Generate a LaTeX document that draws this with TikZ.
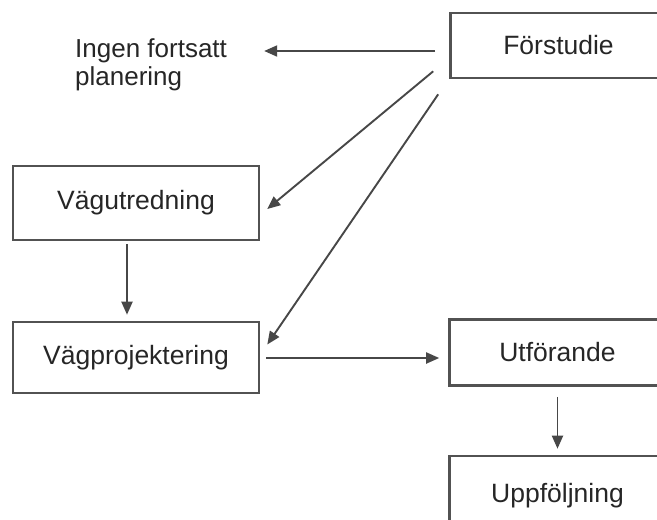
\documentclass[tikz,border=0pt]{standalone}
\usepackage{fontspec}
\setmainfont{Liberation Sans}
\usetikzlibrary{arrows.meta,calc}
\begin{document}
\begin{tikzpicture}[x=1pt,y=-1pt,
  box/.style={draw=black!68,line width=2.6pt,fill=white,rectangle,inner sep=0pt,
     font=\fontsize{26.5}{28}\selectfont,text=black!85},
  lbl/.style={inner sep=0pt,align=left,font=\fontsize{26}{28}\selectfont,text=black!85},
  conn/.style={draw=black!72,line width=1.9pt,-{Triangle[length=13pt,width=11pt]}}]
\clip (0,0) rectangle (657,520);
\fill[white] (0,0) rectangle (657,520);
\node[box,minimum width=216pt,minimum height=65pt] (F) at (558.5,45.5) {Förstudie};
\node[box,minimum width=246pt,minimum height=74pt] (V) at (136,203) {Vägutredning};
\node[box,minimum width=246pt,minimum height=71pt] (P) at (136,357.5) {Vägprojektering};
\node[box,minimum width=216pt,minimum height=66pt] (U) at (557.5,352.5) {Utförande};
\node[box,minimum width=216pt,minimum height=80pt] (Q) at (557.5,496) {Uppföljning};
\node[lbl,anchor=north west] (I) at (75,38) {Ingen fortsatt\\planering};
\coordinate (pu) at ($(P.east)+(6,0.5)$);
\draw[conn] ($(F.west)+(-14,5.5)$) -- ($(I.north east)+(37,13)$);
\draw[conn] ($(F.south west)+(-16,-8)$) -- ($(V.east)+(7,6)$);
\draw[conn] ($(F.south west)+(-11,15)$) -- ($(P.east)+(7,-13)$);
\draw[conn] ($(V.south)+(-9,3)$) -- ($(P.north)+(-9,-6)$);
\draw[conn] (pu) -- ($(pu -| U.west)+(-9,0)$);
\draw[conn] ($(U.south)+(0,10)$) -- ($(Q.north)+(0,-6)$);
\end{tikzpicture}
\end{document}
